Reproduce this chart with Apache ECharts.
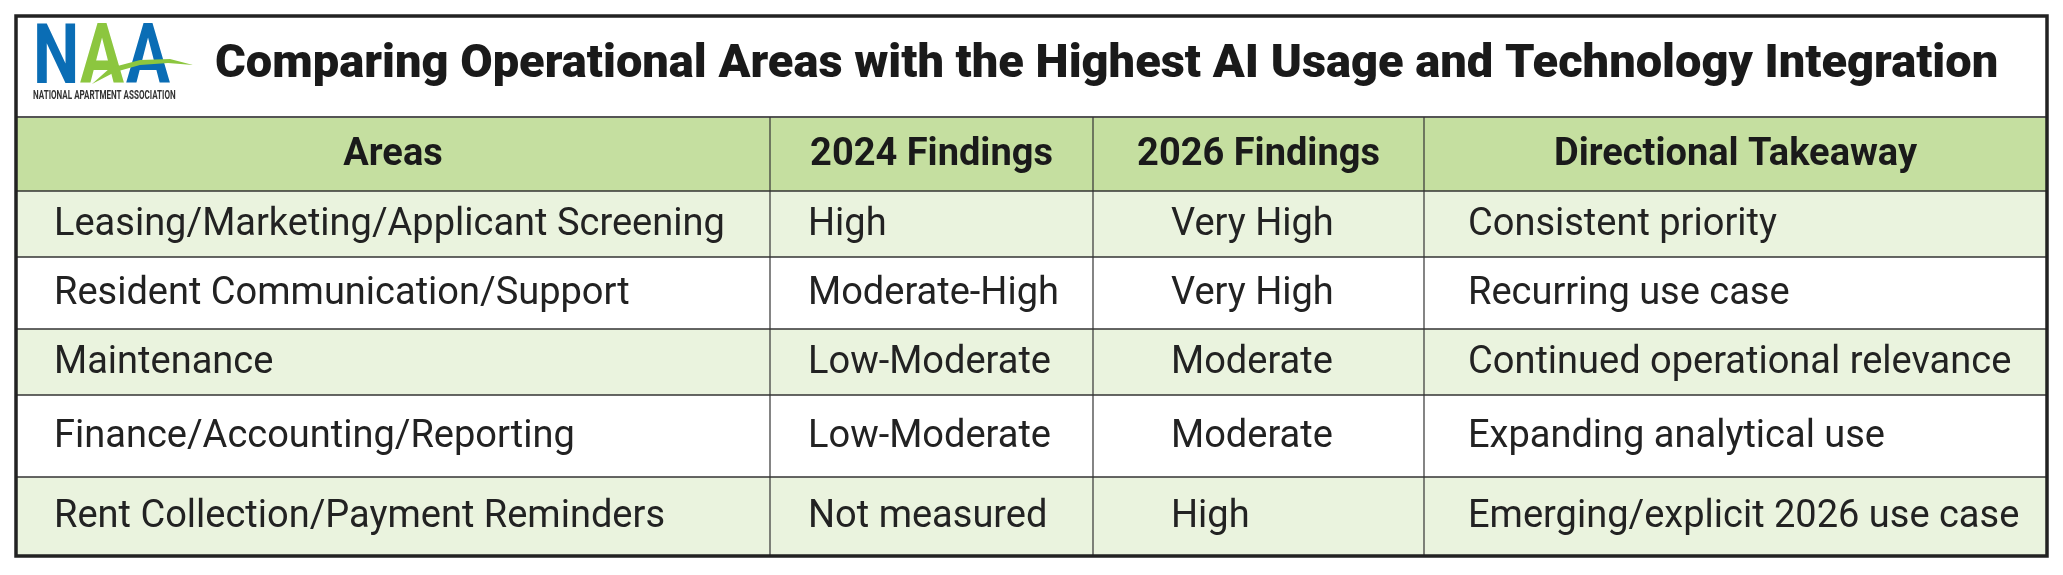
<!DOCTYPE html>
<html>
<head>
<meta charset="utf-8">
<script src="https://cdn.jsdelivr.net/npm/echarts@6/dist/echarts.min.js"></script>
<style>
html, body { margin: 0; padding: 0; background: #fff; }
#main { width: 2063px; height: 575px; }
</style>
</head>
<body>
<div id="main"></div>
<script>
var title = 'Comparing Operational Areas with the Highest AI Usage and Technology Integration';
var headers = ['Areas', '2024 Findings', '2026 Findings', 'Directional Takeaway'];
var areas = ['Leasing/Marketing/Applicant Screening', 'Resident Communication/Support', 'Maintenance', 'Finance/Accounting/Reporting', 'Rent Collection/Payment Reminders'];
var findings2024 = ['High', 'Moderate-High', 'Low-Moderate', 'Low-Moderate', 'Not measured'];
var findings2026 = ['Very High', 'Very High', 'Moderate', 'Moderate', 'High'];
var takeaways = ['Consistent priority', 'Recurring use case', 'Continued operational relevance', 'Expanding analytical use', 'Emerging/explicit 2026 use case'];

// layout
var colX = [16, 770, 1093, 1424, 2047];
var textX = [54, 808, 1171, 1468];
var rowY = [191, 257, 329, 395, 477, 556];
var headTop = 117;

var chart = echarts.init(document.getElementById('main'));
var g = [];

// header band
g.push({ type: 'rect', shape: { x: 16, y: headTop, width: 2031, height: rowY[0] - headTop }, style: { fill: '#c5dfa0' } });
// row bands
for (var i = 0; i < areas.length; i++) {
    g.push({ type: 'rect', shape: { x: 16, y: rowY[i], width: 2031, height: rowY[i + 1] - rowY[i] },
        style: { fill: i % 2 === 0 ? '#eaf3de' : '#ffffff' } });
}
// horizontal lines
g.push({ type: 'line', shape: { x1: 16, y1: headTop, x2: 2047, y2: headTop }, style: { stroke: '#555', lineWidth: 2 } });
for (var i = 0; i < rowY.length - 1; i++) {
    g.push({ type: 'line', shape: { x1: 16, y1: rowY[i], x2: 2047, y2: rowY[i] }, style: { stroke: '#333', lineWidth: 1.5 } });
}
// vertical lines
for (var c = 1; c < colX.length - 1; c++) {
    g.push({ type: 'line', shape: { x1: colX[c], y1: headTop, x2: colX[c], y2: 556 }, style: { stroke: '#333', lineWidth: 1.2 } });
}
// outer border
g.push({ type: 'rect', shape: { x: 16, y: 16, width: 2031, height: 540 }, style: { fill: 'none', stroke: '#222', lineWidth: 3.5 } });

// header text
for (var c = 0; c < headers.length; c++) {
    g.push({ type: 'text', style: { text: headers[c], x: (colX[c] + colX[c + 1]) / 2, y: (headTop + rowY[0]) / 2 + 1,
        align: 'center', verticalAlign: 'middle', font: 'bold 38px Roboto', fill: '#1a1a1a' } });
}
// body text
var cols = [areas, findings2024, findings2026, takeaways];
for (var c = 0; c < cols.length; c++) {
    for (var i = 0; i < cols[c].length; i++) {
        g.push({ type: 'text', style: { text: cols[c][i], x: textX[c], y: (rowY[i] + rowY[i + 1]) / 2 + 1,
            align: 'left', verticalAlign: 'middle', font: '38px Roboto', fill: '#222' } });
    }
}

// title
g.push({ type: 'text', style: { text: title, x: 215, y: 65, align: 'left', verticalAlign: 'middle',
    font: '900 47px Roboto', fill: '#1a1a1a' } });

// logo (letters squeezed horizontally)
var logoFont = 'bold 84px Roboto';
var logoLetters = [['N', 33, '#0a6db5'], ['A', 80, '#8cc63f'], ['A', 126, '#0a6db5']];
logoLetters.forEach(function (l) {
    g.push({ type: 'text', x: l[1], y: 62, scaleX: 0.78, style: { text: l[0], x: 0, y: 0, verticalAlign: 'middle', font: logoFont, fill: l[2] } });
});
g.push({ type: 'polygon', shape: { points: [[92, 84], [110, 68], [140, 60], [170, 59], [193, 65], [168, 63], [140, 65], [115, 72]] },
    style: { fill: '#8cc63f' } });
g.push({ type: 'text', x: 33, y: 96, scaleX: 0.62, style: { text: 'NATIONAL APARTMENT ASSOCIATION', x: 0, y: 0, verticalAlign: 'middle',
    font: 'bold 13px Roboto', fill: '#333' } });

chart.setOption({ animation: false, graphic: { elements: g } });
window.addEventListener('resize', chart.resize);
</script>
</body>
</html>
